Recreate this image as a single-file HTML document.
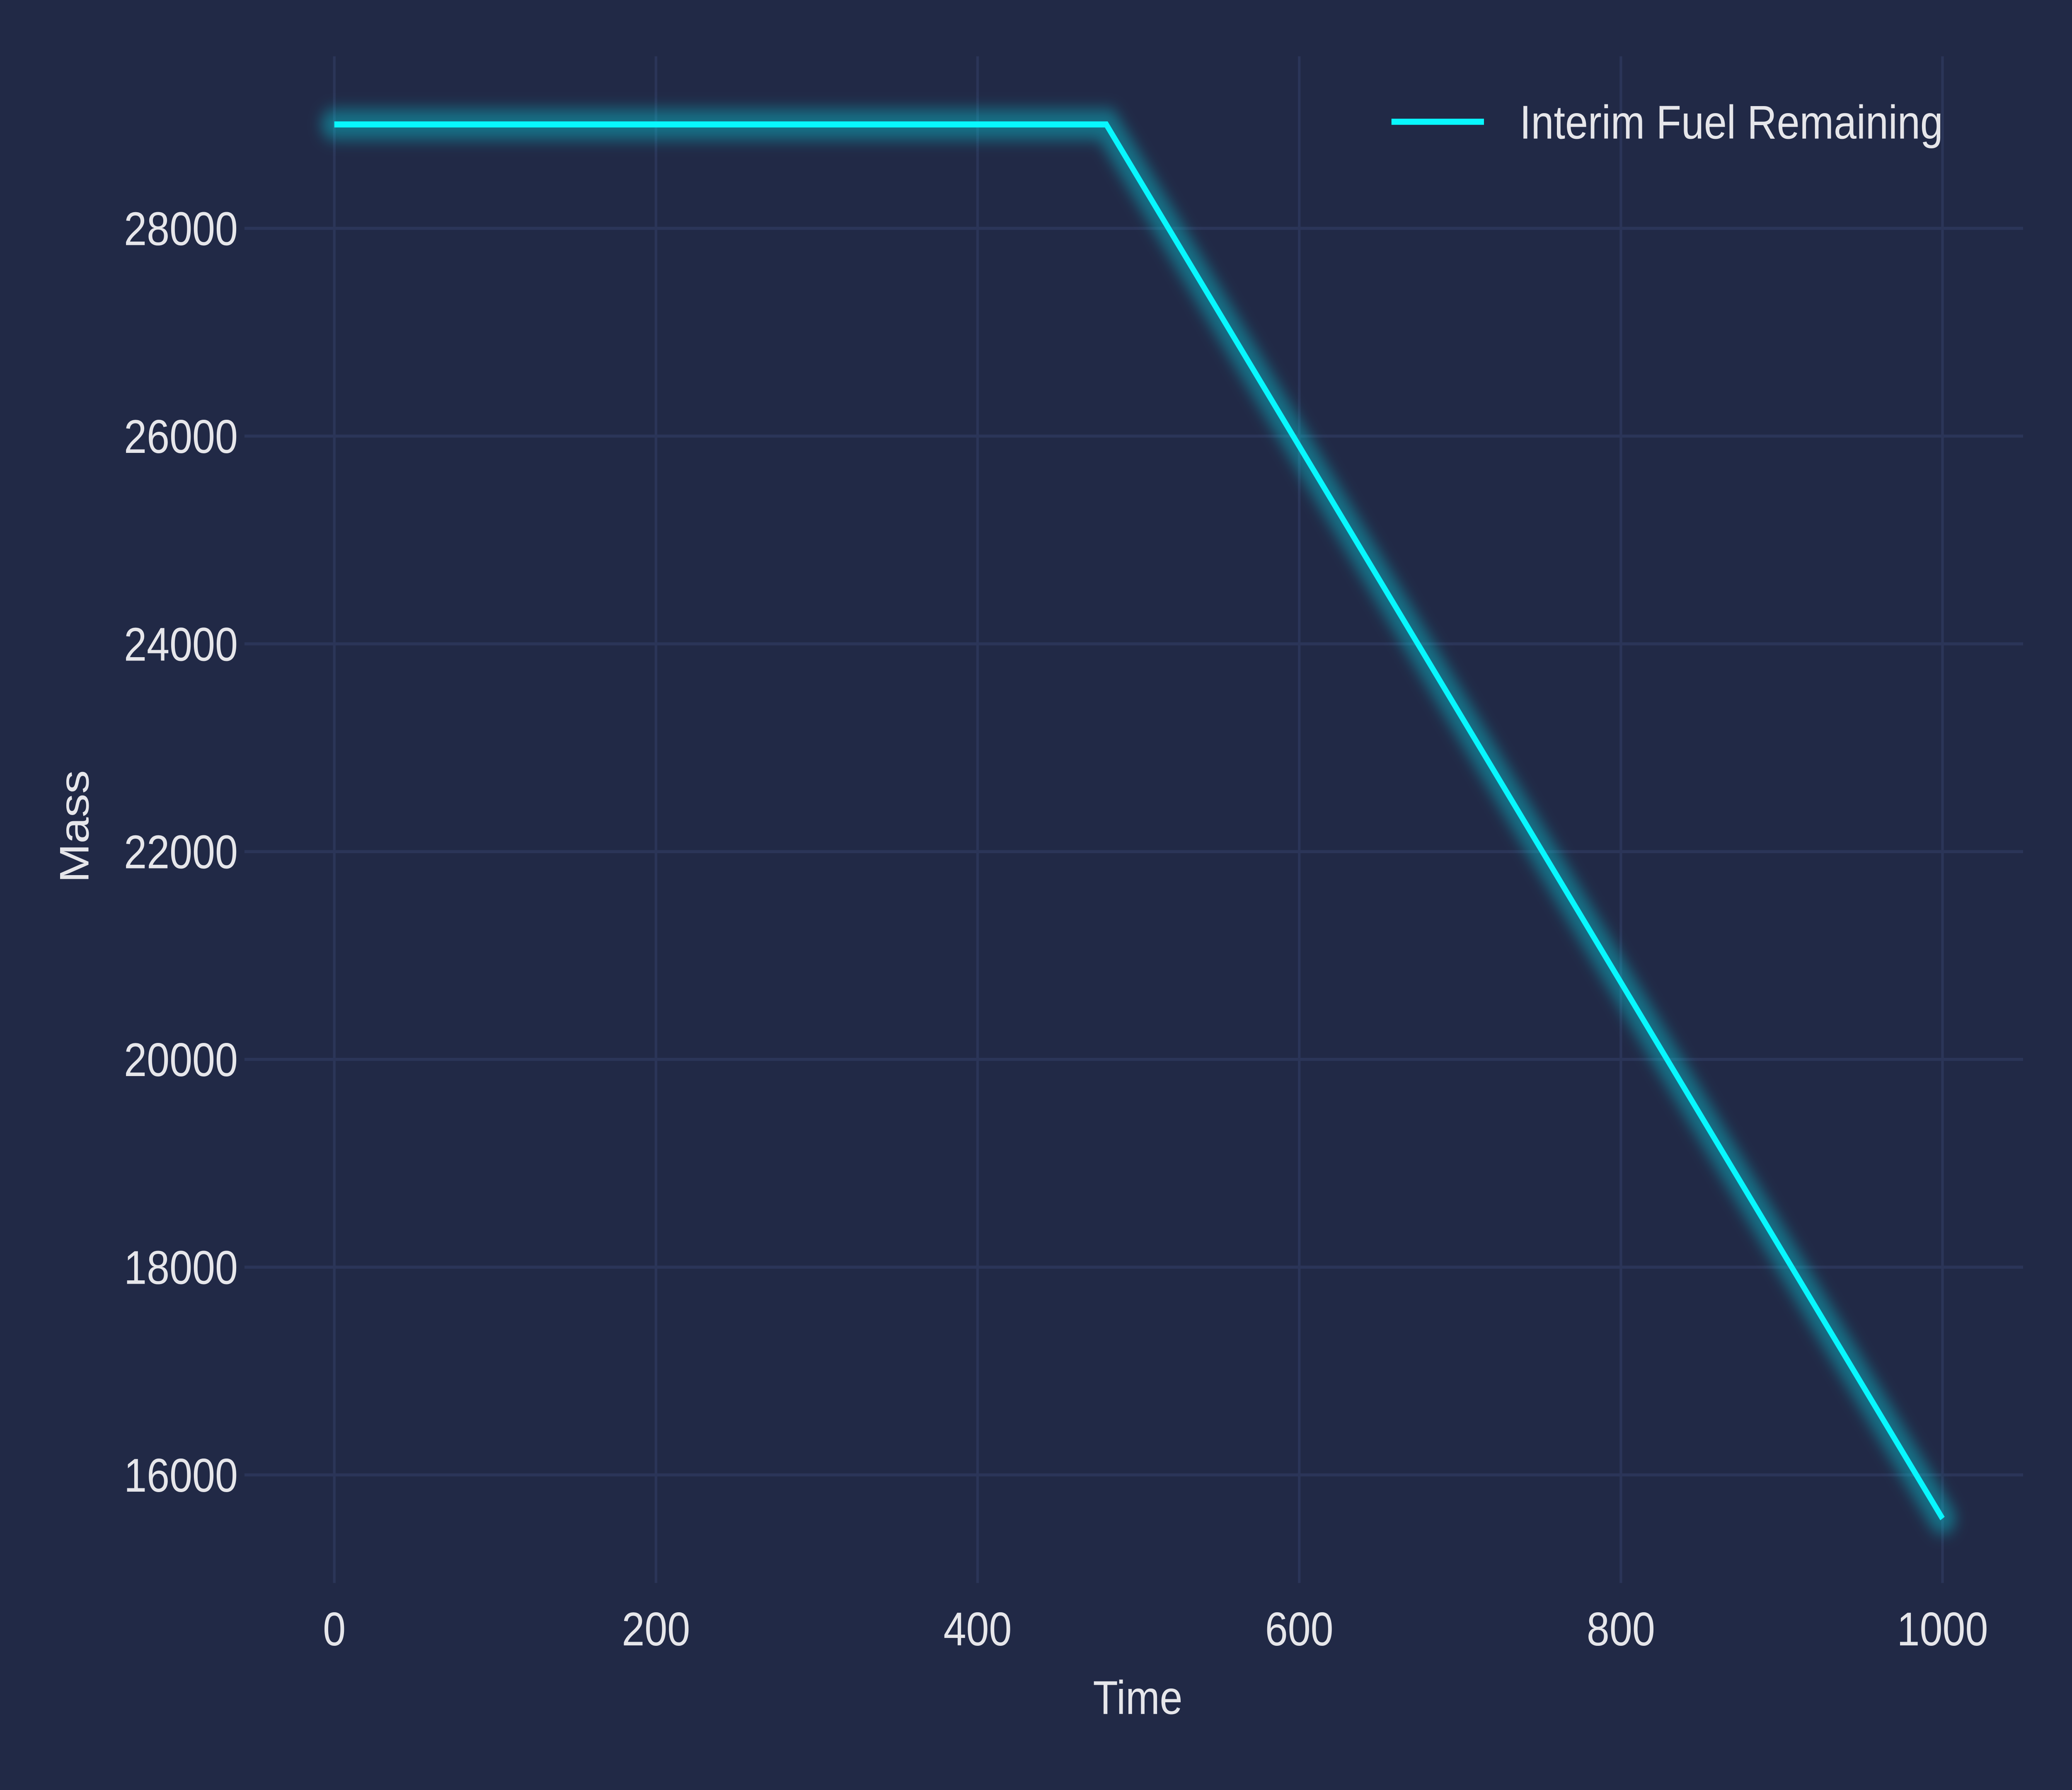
<!DOCTYPE html>
<html><head><meta charset="utf-8"><style>
html,body{margin:0;padding:0;background:#212946;width:100%;height:100%;overflow:hidden;}
svg{display:block;position:fixed;left:0;top:0;width:100vw;height:100vh;}
text{font-family:"Liberation Sans",sans-serif;fill:#e6e6ea;}
</style></head><body>
<svg id="chart" viewBox="0 0 1568 1176" preserveAspectRatio="none" xmlns="http://www.w3.org/2000/svg">
<defs><filter id="glow" x="-20%" y="-20%" width="140%" height="140%"><feGaussianBlur stdDeviation="5"/></filter></defs>
<rect x="0" y="0" width="1568" height="1176" fill="#212946"/>
<g id="grid"></g>
<g id="series"></g>
<g id="ticks"></g>
<text x="861" y="1126" font-size="31" text-anchor="middle">Time</text>
<text transform="translate(67,543) rotate(-90)" font-size="31" text-anchor="middle">Mass</text>
<g>
<line x1="1053" y1="80" x2="1123" y2="80" stroke="#08F7FE" stroke-width="4"/>
<text x="1150" y="91" font-size="31">Interim Fuel Remaining</text>
</g>
</svg>
<script>
const times = [0, 480, 1000];
const mass = [29000, 29000, 15580];
const xTicks = [0, 200, 400, 600, 800, 1000];
const yTicks = [16000, 18000, 20000, 22000, 24000, 26000, 28000];
const NS = "http://www.w3.org/2000/svg";
function xs(v){return 253 + v*1.217;}
function ys(v){return 150 + (28000 - v)*0.06825;}
const grid = document.getElementById('grid');
const ticks = document.getElementById('ticks');
xTicks.forEach(t=>{
  const l=document.createElementNS(NS,'line');
  
  
  l.setAttribute('x1',xs(t));l.setAttribute('x2',xs(t));l.setAttribute('y1',37);l.setAttribute('y2',1040);
  l.setAttribute('stroke','#2b3558');l.setAttribute('stroke-width','2');
  grid.appendChild(l);
  const tx=document.createElementNS(NS,'text');
  
  
  tx.setAttribute('x',xs(t));tx.setAttribute('y',1081);tx.setAttribute('font-size','31');tx.setAttribute('text-anchor','middle');
  tx.textContent=t;ticks.appendChild(tx);
});
yTicks.forEach(t=>{
  const l=document.createElementNS(NS,'line');
  
  
  l.setAttribute('x1',185);l.setAttribute('x2',1531);l.setAttribute('y1',ys(t));l.setAttribute('y2',ys(t));
  l.setAttribute('stroke','#2b3558');l.setAttribute('stroke-width','2');
  grid.appendChild(l);
  const tx=document.createElementNS(NS,'text');
  
  
  tx.setAttribute('x',180);tx.setAttribute('y',ys(t)+11);tx.setAttribute('font-size','31');tx.setAttribute('text-anchor','end');
  tx.textContent=t;ticks.appendChild(tx);
});
const pts = times.map((t,i)=>xs(t)+','+ys(mass[i])).join(' ');
const series=document.getElementById('series');
const glow=document.createElementNS(NS,'polyline');


glow.setAttribute('points',pts);glow.setAttribute('fill','none');glow.setAttribute('stroke','#08F7FE');
glow.setAttribute('stroke-width','20');glow.setAttribute('stroke-opacity','0.35');glow.setAttribute('stroke-linecap','round');glow.setAttribute('filter','url(#glow)');
series.appendChild(glow);
const line=document.createElementNS(NS,'polyline');


line.setAttribute('points',pts);line.setAttribute('fill','none');line.setAttribute('stroke','#08F7FE');line.setAttribute('stroke-width','4');
series.appendChild(line);
</script>
</body></html>
